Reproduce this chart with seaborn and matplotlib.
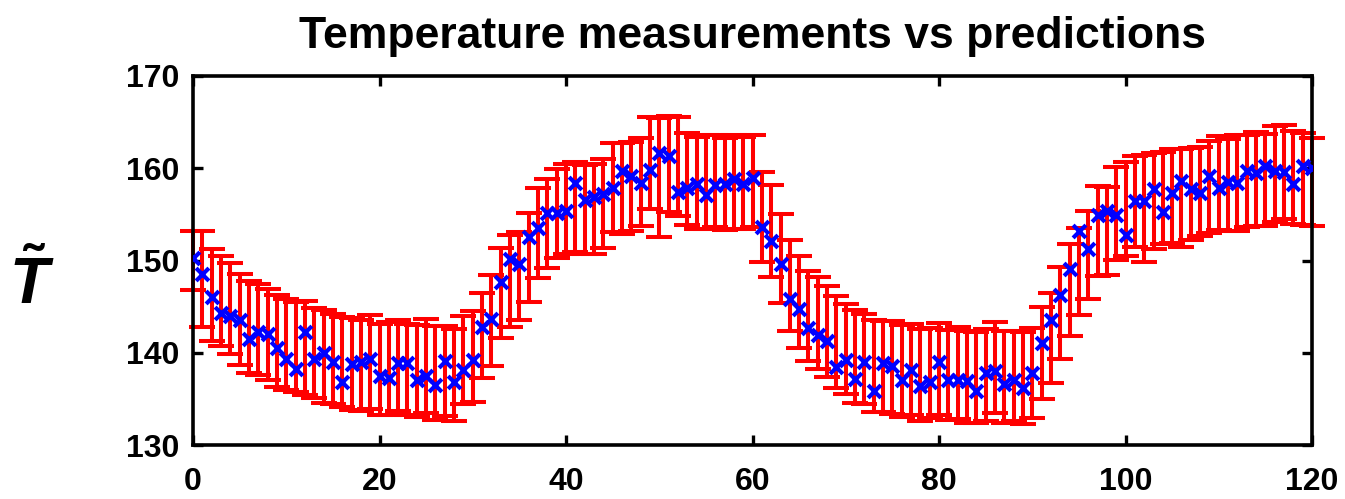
import numpy as np
import pandas as pd
import seaborn as sns
import matplotlib
matplotlib.use("Agg")
import matplotlib.pyplot as plt

# Time index of each sample
time = list(range(121))

# Model predictions (blue crosses)
predicted = [
    150.3, 148.5, 146.0, 144.3, 144.0, 143.5, 141.5, 142.3, 142.0, 140.5,
    139.3, 138.2, 142.2, 139.3, 140.0, 139.0, 136.8, 138.8, 139.0, 139.3,
    137.5, 137.3, 138.9, 138.9, 137.0, 137.5, 136.5, 139.1, 136.8, 138.1,
    139.2, 142.8, 143.7, 147.7, 150.2, 149.6, 152.5, 153.5, 155.1, 155.1,
    155.4, 158.4, 156.6, 156.9, 157.2, 157.9, 159.7, 159.2, 158.4, 159.8,
    161.6, 161.3, 157.4, 157.9, 158.3, 157.1, 158.2, 158.3, 158.8, 158.3,
    158.9, 153.6, 152.1, 149.6, 145.8, 144.7, 142.7, 141.9, 141.3, 138.5,
    139.2, 137.2, 139.0, 135.9, 138.9, 138.6, 137.0, 138.1, 136.4, 136.8,
    139.0, 137.1, 137.0, 136.9, 135.9, 137.8, 138.0, 136.6, 137.0, 136.2,
    137.8, 141.1, 143.5, 146.3, 149.1, 153.2, 151.3, 154.9, 155.4, 154.9,
    152.8, 156.4, 156.4, 157.8, 155.3, 157.3, 158.6, 157.8, 157.3, 159.2,
    157.9, 158.5, 158.4, 159.7, 159.5, 160.2, 159.7, 159.6, 158.3, 160.2,
    160.0,
]

# Measured temperatures (centre of each red bar)
measured = [
    150.0, 148.0, 146.3, 145.6, 144.8, 143.6, 142.8, 142.5, 142.0, 141.3,
    140.9, 140.6, 140.5, 140.0, 139.6, 139.3, 139.0, 138.8, 138.6, 139.0,
    138.2, 138.3, 138.6, 138.2, 138.0, 138.6, 137.8, 138.0, 137.6, 139.2,
    139.6, 141.9, 143.5, 146.5, 147.8, 148.3, 150.3, 153.0, 154.0, 155.1,
    155.6, 155.8, 155.5, 155.6, 156.2, 157.9, 157.8, 158.0, 158.5, 160.6,
    159.0, 160.5, 160.2, 158.8, 158.4, 158.5, 158.6, 158.3, 158.5, 158.4,
    158.6, 154.7, 153.2, 150.2, 147.3, 145.5, 144.0, 143.2, 142.3, 141.2,
    140.4, 139.6, 139.3, 138.6, 138.5, 138.4, 138.0, 138.2, 137.6, 137.8,
    138.2, 137.6, 137.8, 137.4, 137.3, 137.6, 138.4, 137.4, 137.5, 137.3,
    137.8, 140.0, 141.6, 144.3, 146.8, 148.8, 150.6, 153.2, 153.2, 155.1,
    155.6, 156.4, 155.6, 156.5, 156.8, 157.0, 156.8, 157.2, 157.5, 158.0,
    158.4, 158.2, 158.4, 158.6, 158.8, 158.7, 159.4, 159.6, 159.0, 158.8,
    158.5,
]

# Measurement uncertainty (half-length of each red bar)
uncertainty = [
    3.2, 5.2, 5.0, 4.9, 4.9, 4.9, 5.0, 4.9, 4.9, 5.0,
    4.9, 4.9, 5.1, 4.9, 5.0, 4.9, 4.9, 5.0, 4.9, 5.1,
    4.9, 5.0, 4.9, 4.9, 5.0, 5.1, 5.1, 4.9, 5.0, 4.8,
    4.9, 4.6, 4.9, 4.9, 5.0, 4.8, 4.8, 4.9, 4.8, 4.8,
    4.9, 4.9, 4.8, 4.9, 4.8, 4.8, 4.9, 4.8, 4.8, 5.0,
    6.4, 5.2, 5.4, 5.0, 5.0, 5.1, 5.0, 5.0, 5.1, 5.0,
    5.0, 4.9, 5.0, 4.8, 4.9, 5.0, 4.9, 5.0, 4.9, 5.0,
    4.9, 5.0, 4.9, 5.0, 4.9, 5.0, 5.0, 4.9, 5.0, 4.9,
    5.0, 4.9, 5.0, 5.0, 4.9, 5.0, 4.9, 5.0, 4.9, 5.0,
    4.9, 5.0, 4.9, 5.0, 5.0, 4.7, 4.8, 4.9, 4.8, 5.0,
    5.1, 4.9, 5.8, 5.2, 5.0, 5.1, 5.3, 5.0, 4.8, 5.0,
    5.1, 5.0, 5.2, 5.0, 5.1, 5.0, 5.2, 5.1, 5.0, 5.0,
    4.8,
]

x_ticks = [0, 20, 40, 60, 80, 100, 120]
y_ticks = [130, 140, 150, 160, 170]

df = pd.DataFrame({"time": time, "predicted": predicted,
                   "measured": measured, "uncertainty": uncertainty})

sns.set_theme(style="white")
plt.rcParams["font.family"] = ["Liberation Sans", "DejaVu Sans"]
plt.rcParams["mathtext.fontset"] = "custom"
plt.rcParams["mathtext.it"] = "Liberation Sans:italic:bold"
plt.rcParams["mathtext.rm"] = "Liberation Sans:bold"

fig = plt.figure(figsize=(13.45, 4.99), dpi=100)
ax = fig.add_axes([0.1435, 0.1082, 0.832, 0.7395])

# Measurements with their uncertainty
bars = ax.errorbar(df["time"], df["measured"], yerr=df["uncertainty"], fmt="none",
                   ecolor="#ff0000", elinewidth=2.9, capsize=9.5, capthick=2.9, zorder=2)
for artist in bars.lines[1]:
    artist.set_clip_on(False)
for coll in bars.lines[2]:
    coll.set_clip_on(False)

# Predictions
sns.scatterplot(data=df, x="time", y="predicted", marker="x", color="#0000ff",
                s=85, linewidth=3.0, ax=ax, zorder=3, legend=False)

ax.set_xlim(0, 120)
ax.set_ylim(130, 170)
ax.set_xticks(x_ticks)
ax.set_yticks(y_ticks)
ax.set_xticklabels([str(v) for v in x_ticks])
ax.set_yticklabels([str(v) for v in y_ticks])
ax.set_xlabel("")
ax.set_ylabel("")

for spine in ax.spines.values():
    spine.set_visible(True)
    spine.set_color("black")
    spine.set_linewidth(2.6)

ax.tick_params(axis="both", which="major", direction="in", length=7, width=2.4,
               color="black", top=True, right=True, bottom=True, left=True,
               labelsize=23)
ax.tick_params(axis="x", pad=16)
ax.tick_params(axis="y", pad=10)
for lab in ax.get_xticklabels() + ax.get_yticklabels():
    lab.set_fontweight("bold")
    lab.set_color("black")

ax.set_title("Temperature measurements vs predictions", fontsize=32,
             fontweight="bold", color="black", pad=20)

fig.text(32 / 1345, 1 - 285 / 499, r"$\tilde{T}$", fontsize=46,
         ha="center", va="center", color="black")

fig.savefig("out.png", dpi=100, facecolor="white")
